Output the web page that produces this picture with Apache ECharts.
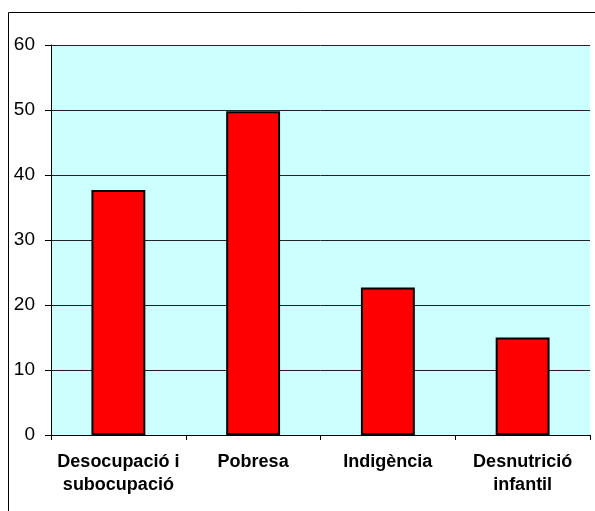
<!DOCTYPE html>
<html>
<head>
<meta charset="utf-8">
<script src="https://cdn.jsdelivr.net/npm/echarts@6/dist/echarts.min.js"></script>
<style>
  html, body { margin: 0; padding: 0; background: #fff; }
  #chart { width: 595px; height: 511px; }
</style>
</head>
<body>
<div id="chart"></div>
<script>
const categories = ['Desocupació i\nsubocupació', 'Pobresa', 'Indigència', 'Desnutrició\ninfantil']
const values = [37.7, 49.8, 22.7, 15.0]

const c = echarts.init(document.getElementById('chart'))
c.setOption({
  animation: false,
  graphic: [{
    type: 'rect',
    shape: { x: 8.5, y: 12.5, width: 600, height: 520 },
    style: { fill: 'none', stroke: '#000', lineWidth: 1 },
    silent: true
  }],
  grid: {
    left: 51, right: 5, top: 45, bottom: 76,
    show: true, backgroundColor: '#CCFFFF', borderWidth: 0
  },
  xAxis: {
    type: 'category',
    data: categories,
    axisLine: { lineStyle: { color: '#000', width: 1 } },
    axisTick: { show: true, length: 5, alignWithLabel: false, lineStyle: { color: '#000' } },
    axisLabel: {
      color: '#000', fontFamily: 'Liberation Sans, Arial', fontWeight: 'bold',
      fontSize: 18, lineHeight: 23, margin: 16, interval: 0
    }
  },
  yAxis: {
    type: 'value',
    min: 0, max: 60, interval: 10,
    axisLine: { show: true, lineStyle: { color: '#000', width: 1 } },
    axisTick: { show: true, length: 6, lineStyle: { color: '#000' } },
    axisLabel: { color: '#000', fontFamily: 'Liberation Sans, Arial', fontSize: 19, margin: 16 },
    splitLine: { lineStyle: { color: '#222', width: 1 } }
  },
  series: [{
    type: 'bar',
    data: values,
    barWidth: '40%',
    itemStyle: { color: '#FF0000', borderColor: '#000', borderWidth: 2 }
  }]
})
</script>
</body>
</html>
